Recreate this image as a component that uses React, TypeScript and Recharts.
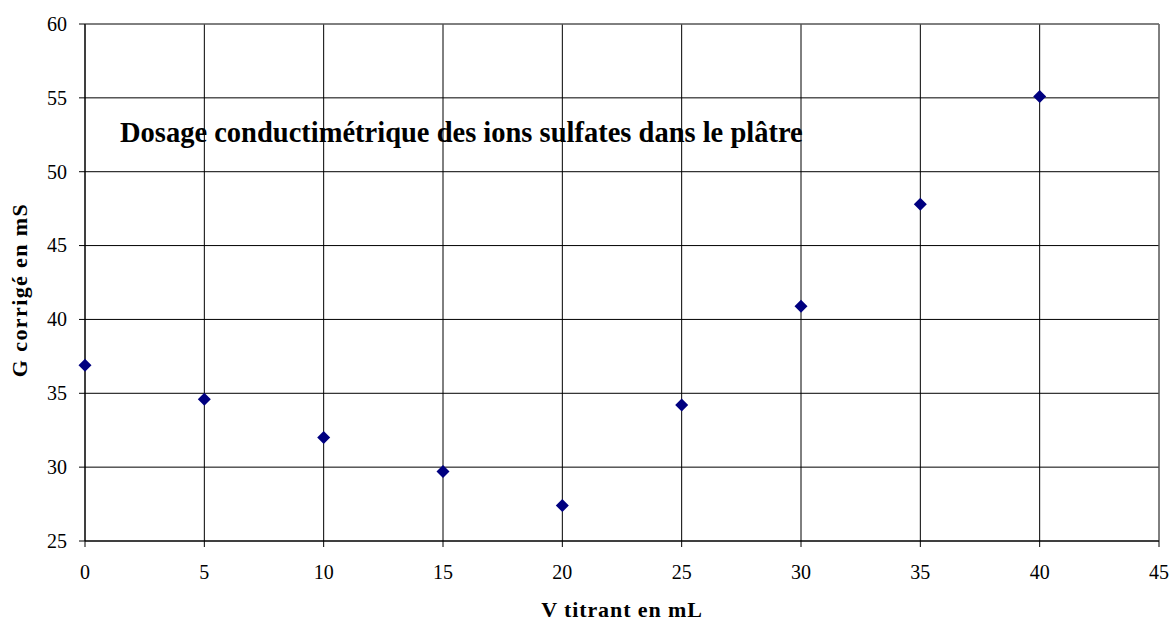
import { ScatterChart, Scatter, XAxis, YAxis, CartesianGrid, ReferenceLine } from "recharts";

const volumes = [0, 5, 10, 15, 20, 25, 30, 35, 40];
const conductances = [36.9, 34.6, 32.0, 29.7, 27.4, 34.2, 40.9, 47.8, 55.1];
const xTicks = [0, 5, 10, 15, 20, 25, 30, 35, 40, 45];
const yTicks = [25, 30, 35, 40, 45, 50, 55, 60];

const points = volumes.map((v, i) => ({ v, g: conductances[i] }));

const serif = "Liberation Serif";

function Diamond(props: any) {
  const { cx, cy } = props;
  const r = 6.5;
  return (
    <path
      d={`M${cx},${cy - r}L${cx + r},${cy}L${cx},${cy + r}L${cx - r},${cy}Z`}
      fill="#000080"
    />
  );
}

const renderXTick = (props: any) => {
  const { x, y, payload } = props;
  return (
    <text x={x} y={y} dy="0.71em" textAnchor="middle" style={{ fontFamily: serif, fontSize: 20 }} fill="#000">
      {payload.value}
    </text>
  );
};

const renderYTick = (props: any) => {
  const { x, y, payload } = props;
  return (
    <text x={x} y={y} dy="0.34em" textAnchor="end" style={{ fontFamily: serif, fontSize: 20 }} fill="#000">
      {payload.value}
    </text>
  );
};

export default function App() {
  return (
    <div
      style={{
        position: "absolute",
        left: 0,
        top: 0,
        width: 1172,
        height: 621,
        background: "#fff",
        fontFamily: serif,
        fontSize: 20,
      }}
    >
      <ScatterChart width={1172} height={621} margin={{ top: 24, right: 13, left: 0, bottom: 0 }}>
        <CartesianGrid stroke="#000" strokeWidth={1} />
        <XAxis
          type="number"
          dataKey="v"
          domain={[0, 45]}
          ticks={xTicks}
          interval={0}
          height={80}
          tickSize={6}
          tickMargin={18}
          stroke="#000"
          tick={renderXTick}
        />
        <YAxis
          type="number"
          dataKey="g"
          domain={[25, 60]}
          ticks={yTicks}
          interval={0}
          width={85}
          tickSize={6}
          tickMargin={12}
          stroke="#000"
          tick={renderYTick}
        />
        <ReferenceLine y={60} stroke="#808080" />
        <ReferenceLine x={45} stroke="#808080" />
        <Scatter data={points} shape={Diamond} isAnimationActive={false} />
      </ScatterChart>
      <svg
        width={1172}
        height={621}
        style={{ position: "absolute", left: 0, top: 0, pointerEvents: "none" }}
      >
        <text x={120} y={142} style={{ fontFamily: serif, fontWeight: "bold", fontSize: 28.5 }} fill="#000">
          Dosage conductimétrique des ions sulfates dans le plâtre
        </text>
        <text
          x={622}
          y={617}
          textAnchor="middle"
          style={{ fontFamily: serif, fontWeight: "bold", fontSize: 22, letterSpacing: 0.9 }}
          fill="#000"
        >
          V titrant en mL
        </text>
        <text
          x={26.5}
          y={290}
          transform="rotate(-90, 26.5, 290)"
          textAnchor="middle"
          style={{ fontFamily: serif, fontWeight: "bold", fontSize: 22, letterSpacing: 1.4 }}
          fill="#000"
        >
          G corrigé en mS
        </text>
      </svg>
    </div>
  );
}
